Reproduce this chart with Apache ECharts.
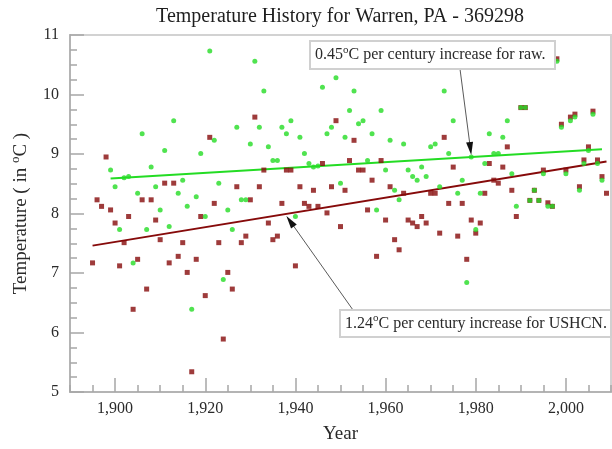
<!DOCTYPE html>
<html>
<head>
<meta charset="utf-8">
<title>Temperature History for Warren, PA - 369298</title>
<script src="https://cdn.jsdelivr.net/npm/echarts@6/dist/echarts.min.js"></script>
<style>
  html, body { margin: 0; padding: 0; background: #fff; }
  #chart { width: 612px; height: 449px; }
</style>
</head>
<body>
<div id="chart"></div>
<script>
// ---- data -------------------------------------------------------------
const years = [
  1895, 1896, 1897, 1898, 1899, 1900, 1901, 1902, 1903, 1904,
  1905, 1906, 1907, 1908, 1909, 1910, 1911, 1912, 1913, 1914,
  1915, 1916, 1917, 1918, 1919, 1920, 1921, 1922, 1923, 1924,
  1925, 1926, 1927, 1928, 1929, 1930, 1931, 1932, 1933, 1934,
  1935, 1936, 1937, 1938, 1939, 1940, 1941, 1942, 1943, 1944,
  1945, 1946, 1947, 1948, 1949, 1950, 1951, 1952, 1953, 1954,
  1955, 1956, 1957, 1958, 1959, 1960, 1961, 1962, 1963, 1964,
  1965, 1966, 1967, 1968, 1969, 1970, 1971, 1972, 1973, 1974,
  1975, 1976, 1977, 1978, 1979, 1980, 1981, 1982, 1983, 1984,
  1985, 1986, 1987, 1988, 1989, 1990, 1991, 1992, 1993, 1994,
  1995, 1996, 1997, 1998, 1999, 2000, 2001, 2002, 2003, 2004,
  2005, 2006, 2007, 2008, 2009
];

// Annual mean temperature (deg C), adjusted USHCN record
const ushcnTemps = [
  7.17, 8.23, 8.12, 8.95, 8.06, 7.84, 7.12, 7.51, 7.95, 6.39,
  7.23, 8.23, 6.73, 8.23, 7.89, 7.56, 8.51, 7.17, 8.51, 7.28,
  7.51, 7.01, 5.34, 7.23, 7.95, 6.62, 9.28, 8.17, 7.51, 5.89,
  7.01, 6.73, 8.45, 7.51, 7.62, 8.23, 9.62, 8.45, 8.73, 7.84,
  7.56, 7.62, 8.17, 8.73, 8.73, 7.12, 8.45, 8.17, 8.12, 8.39,
  8.12, 8.84, 8.01, 8.45, 9.56, 7.78, 8.39, 8.89, 9.23, 8.73,
  8.73, 8.06, 8.56, 7.28, 8.89, 7.89, 8.45, 7.56, 7.39, 8.34,
  7.89, 7.84, 7.78, 7.95, 7.84, 8.34, 8.34, 7.67, 9.28, 8.17,
  8.78, 7.62, 8.17, 7.23, 7.89, 7.67, 7.84, 8.34, 8.84, 8.56,
  8.51, 8.78, 9.12, 8.39, 7.95, 9.78, 9.78, 8.22, 8.39, 8.22,
  8.73, 8.18, 8.12, 10.60, 9.50, 8.73, 9.62, 9.67, 8.45, 8.90,
  9.12, 9.72, 8.90, 8.62, 8.34
];

// Annual mean temperature (deg C), raw station record (null = no value)
const rawTemps = [
  null, null, null, null, 8.73, 8.45, 7.73, 8.60, 8.62, 7.17,
  8.34, 9.34, 7.73, 8.78, 8.45, 8.06, 9.06, 7.78, 9.56, 8.34,
  8.56, 8.12, 6.39, 8.28, 9.01, 7.95, 10.73, 9.23, 8.51, 6.89,
  8.06, 7.73, 9.45, 8.23, 8.23, 9.17, 10.56, 9.45, 10.06, 9.12,
  8.89, 8.89, 9.45, 9.34, 9.56, 7.95, 9.28, 9.01, 8.84, 8.78,
  8.80, 10.12, 9.34, 9.45, 10.28, 8.51, 9.28, 9.73, 10.06, 9.51,
  9.56, 8.89, 9.34, 8.06, 9.73, 8.73, 9.23, 8.39, 8.23, 9.17,
  8.73, 8.62, 8.56, 8.78, 8.62, 9.12, 9.17, 8.45, 10.06, 9.01,
  9.56, 8.34, 8.56, 6.84, 8.95, 7.73, 8.34, 8.84, 9.34, 9.01,
  9.01, 9.28, 9.56, 8.67, 8.12, 9.78, 9.78, 8.22, 8.39, 8.22,
  8.67, 8.12, 8.12, 10.56, 9.45, 8.67, 9.56, 9.62, 8.39, 8.84,
  9.06, 9.67, 8.84, 8.56, null
];

// Linear trends (deg C per century) and the span each covers
const rawTrend   = { from: 1899, to: 2008, startValue: 8.59, perCentury: 0.45 };
const ushcnTrend = { from: 1895, to: 2009, startValue: 7.46, perCentury: 1.24 };

const yearTickLabels = [1900, 1920, 1940, 1960, 1980, 2000];
const tempTickLabels = [5, 6, 7, 8, 9, 10, 11];

// ---- styling ----------------------------------------------------------
const SERIF = '"Liberation Serif", "Times New Roman", Times, serif';
const RED = '#860a0a';
const GREEN = '#24dc24';
const AXIS_GRAY = '#b4b4b4';
const TICK_GRAY = '#a6a6a6';
const TEXT = '#2a2a2a';

const trendAt = (t, yr) => t.startValue + t.perCentury * (yr - t.from) / 100;
const trendLine = t => [[t.from, t.startValue], [t.to, trendAt(t, t.to)]];
const points = vals => years
  .map((y, i) => [y, vals[i]])
  .filter(p => p[1] !== null);

const supRich = size => ({
  sup: { fontFamily: SERIF, fontSize: size, color: TEXT, verticalAlign: 'top', lineHeight: size }
});

const chart = echarts.init(document.getElementById('chart'), null, { renderer: 'canvas' });

const option = {
  animation: false,
  backgroundColor: '#fff',
  grid: {
    left: 70, right: 1, top: 35, bottom: 55,
    show: true, borderColor: '#d2d2d2', borderWidth: 2, backgroundColor: 'transparent'
  },
  xAxis: [
    {
      type: 'value', min: 1890, max: 2010, interval: 5, position: 'bottom',
      axisLine: { show: true, onZero: false, lineStyle: { color: AXIS_GRAY, width: 2 } },
      axisTick: { show: true, inside: true, length: 7, lineStyle: { color: TICK_GRAY, width: 1.5 } },
      axisLabel: {
        customValues: yearTickLabels, margin: 9,
        fontFamily: SERIF, fontSize: 16, color: TEXT
      },
      splitLine: { show: false },
      name: 'Year', nameLocation: 'middle', nameGap: 33,
      nameTextStyle: { fontFamily: SERIF, fontSize: 19, color: TEXT }
    },
    {
      type: 'value', min: 1890, max: 2010, position: 'bottom',
      axisLine: { show: false, onZero: false },
      axisTick: {
        show: true, inside: true, length: 14, customValues: yearTickLabels,
        lineStyle: { color: TICK_GRAY, width: 1.5 }
      },
      axisLabel: { show: false },
      splitLine: { show: false }
    }
  ],
  yAxis: {
    type: 'value', min: 5, max: 11, interval: 1,
    axisLine: { show: true, onZero: false, lineStyle: { color: AXIS_GRAY, width: 2 } },
    axisTick: { show: true, inside: true, length: 14, lineStyle: { color: TICK_GRAY, width: 1.5 } },
    minorTick: { show: true, splitNumber: 4, length: 7, lineStyle: { color: TICK_GRAY, width: 1.5 } },
    axisLabel: {
      customValues: tempTickLabels, margin: 11,
      fontFamily: SERIF, fontSize: 16, color: TEXT
    },
    splitLine: { show: false },
    minorSplitLine: { show: false },
    name: 'Temperature ( in {sup|o}C )', nameLocation: 'middle', nameGap: 35,
    nameTextStyle: {
      fontFamily: SERIF, fontSize: 19, color: TEXT, lineHeight: 23,
      rich: supRich(13)
    }
  },
  series: [
    {
      name: 'USHCN trend', type: 'line', data: trendLine(ushcnTrend),
      symbol: 'none', silent: true, z: 2,
      lineStyle: { color: RED, width: 2 }
    },
    {
      name: 'Raw trend', type: 'line', data: trendLine(rawTrend),
      symbol: 'none', silent: true, z: 2,
      lineStyle: { color: GREEN, width: 2 }
    },
    {
      name: 'USHCN', type: 'scatter', data: points(ushcnTemps),
      symbol: 'rect', symbolSize: 5, z: 3,
      itemStyle: { color: RED }
    },
    {
      name: 'Raw', type: 'scatter', data: points(rawTemps),
      symbol: 'circle', symbolSize: 5, z: 4,
      itemStyle: { color: GREEN }
    }
  ]
};

chart.setOption(option);

// ---- title and trend call-outs -----------------------------------------
function arrow(tail, tip) {
  const dx = tip[0] - tail[0], dy = tip[1] - tail[1];
  const len = Math.hypot(dx, dy);
  const ux = dx / len, uy = dy / len;
  const headLen = 13, halfW = 3.5;
  const bx = tip[0] - ux * headLen, by = tip[1] - uy * headLen;
  return [
    { type: 'line', z: 100, silent: true,
      shape: { x1: tail[0], y1: tail[1], x2: bx + ux * 2, y2: by + uy * 2 },
      style: { stroke: '#5a5a5a', lineWidth: 1 } },
    { type: 'polygon', z: 101, silent: true,
      shape: { points: [tip, [bx - uy * halfW, by + ux * halfW], [bx + uy * halfW, by - ux * halfW]] },
      style: { fill: '#111' } }
  ];
}

function noteBox(box, text) {
  return [
    { type: 'rect', z: 100, silent: true,
      shape: { x: box.x, y: box.y, width: box.w, height: box.h },
      style: { fill: '#fff', stroke: '#d0d0d0', lineWidth: 2 } },
    { type: 'text', z: 101, silent: true,
      x: box.x + 5, y: box.y + box.h / 2,
      style: {
        text: text, fontFamily: SERIF, fontSize: 16, fill: TEXT, lineHeight: 21,
        align: 'left', verticalAlign: 'middle', rich: supRich(11)
      } }
  ];
}

const noteText = (t, which) =>
  t.perCentury.toFixed(2) + '{sup|o}C per century increase for ' + which + '.';

const rawTip = chart.convertToPixel({ gridIndex: 0 }, [1979, trendAt(rawTrend, 1979)]);
const ushcnTip = chart.convertToPixel({ gridIndex: 0 }, [1938, trendAt(ushcnTrend, 1938)]);

const rawBox = { x: 310, y: 41, w: 245, h: 28 };
const ushcnBox = { x: 340, y: 310, w: 271, h: 27 };

chart.setOption({
  graphic: [
    { type: 'text', x: 340, y: 17, silent: true,
      style: {
        text: 'Temperature History for Warren, PA - 369298',
        fontFamily: SERIF, fontSize: 20, fill: '#1e1e1e',
        align: 'center', verticalAlign: 'middle'
      } },
    ...arrow([460, rawBox.y + rawBox.h], [rawTip[0], rawTip[1] - 2]),
    ...arrow([353, ushcnBox.y], [ushcnTip[0], ushcnTip[1] + 2]),
    ...noteBox(rawBox, noteText(rawTrend, 'raw')),
    ...noteBox(ushcnBox, noteText(ushcnTrend, 'USHCN'))
  ]
});
</script>
</body>
</html>
